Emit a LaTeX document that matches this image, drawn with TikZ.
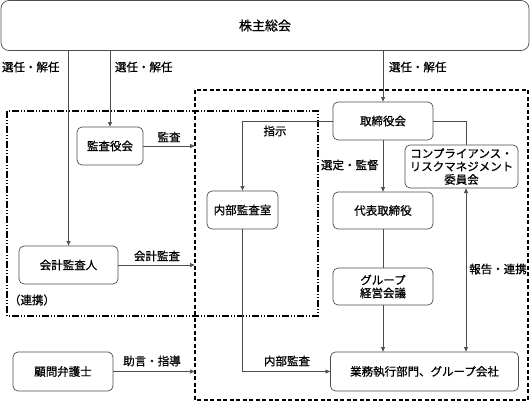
\documentclass[tikz,border=0pt]{standalone}
\usepackage{fontspec}
\setmainfont[FakeBold=0.8]{Noto Sans CJK JP}
\usetikzlibrary{arrows.meta}

\begin{document}
\begin{tikzpicture}[x=1pt,y=-1pt,
  >={Latex[length=5pt,width=4.5pt]},
  font=\fontsize{11.5}{13}\selectfont,
  inner sep=0pt, outer sep=0pt,
  box/.style={draw=black!70,line width=0.7pt,rounded corners=5pt,align=center},
  link/.style={draw=black!70,line width=0.7pt},
  lbl/.style={inner sep=0pt},
  border/.style={draw=black,line width=1.1pt,dash pattern=on 4pt off 2.5pt},
  group/.style={draw=black,line width=1.1pt,dash pattern=on 7pt off 2pt on 1pt off 2pt on 1pt off 2pt}]

\useasboundingbox (0,0) rectangle (531,402);

% frames
\draw[border] (195,90) rectangle (528,400);
\draw[group] (7,111) rectangle (318,316);
\coordinate (dl) at (195,0);
\coordinate (rx) at (466,0);

% boxes
\node[box,rounded corners=8pt,minimum width=528pt,minimum height=50pt,font=\fontsize{13}{15}\selectfont] (soukai) at (265,25.5) {株主総会};
\node[box,minimum width=66pt,minimum height=38pt] (kansayaku) at (110,146) {監査役会};
\node[box,minimum width=99pt,minimum height=38pt] (kaikei) at (68.5,265) {会計監査人};
\node[box,minimum width=100pt,minimum height=39pt] (komon) at (63,371.5) {顧問弁護士};
\node[box,minimum width=100pt,minimum height=38pt] (torishimari) at (383,121) {取締役会};
\node[box,minimum width=71pt,minimum height=38pt] (naibu) at (242.5,210) {内部監査室};
\node[box,minimum width=100pt,minimum height=37pt] (daihyo) at (383,210.5) {代表取締役};
\node[box,minimum width=100pt,minimum height=37pt] (keiei) at (383,286.5) {グループ\\経営会議};
\node[box,minimum width=113pt,minimum height=43pt] (comp) at (461.5,166.5) {コンプライアンス・\\リスクマネジメント\\委員会};
\node[box,minimum width=188pt,minimum height=39pt] (gyomu) at (424.5,371.5) {業務執行部門、グループ会社};

% connectors
\draw[link,->] (kaikei.north |- soukai.south) -- (kaikei.north);
\draw[link,->] (kansayaku.north |- soukai.south) -- (kansayaku.north);
\draw[link,->] (torishimari.north |- soukai.south) -- (torishimari.north);
\draw[link,->] (kansayaku.east) -- (kansayaku.east -| dl);
\draw[link,->] (kaikei.east) -- (kaikei.east -| dl);
\draw[link,->] (komon.east) -- (komon.east -| dl);
\draw[link,->] (torishimari.west) -| (naibu.north);
\draw[link] (torishimari.east) -| (rx |- comp.north);
\draw[link,<->] (rx |- comp.south) -- (rx |- gyomu.north);
\draw[link,->] (torishimari) -- (daihyo);
\draw[link] (daihyo) -- (keiei);
\draw[link,->] (keiei.south) -- (keiei.south |- gyomu.north);
\draw[link,->] (naibu.south) |- (gyomu.west);

% labels
\node[lbl,anchor=west] (l1) at (2,67) {選任・解任};
\node[lbl,anchor=west] (l2) at (115,67) {選任・解任};
\node[lbl,anchor=west] (l3) at (389,67) {選任・解任};
\node[lbl] (l4) at (169,137) {監査};
\node[lbl] (l5) at (157,256) {会計監査};
\node[lbl,anchor=west] (l6) at (9,300) {（連携）};
\node[lbl] (l7) at (275,131) {指示};
\node[lbl,anchor=west] (l8) at (321,165) {選定・監督};
\node[lbl] (l9) at (498,269) {報告・連携};
\node[lbl] (l10) at (287,361) {内部監査};
\node[lbl] (l11) at (152,361) {助言・指導};

\end{tikzpicture}
\end{document}
